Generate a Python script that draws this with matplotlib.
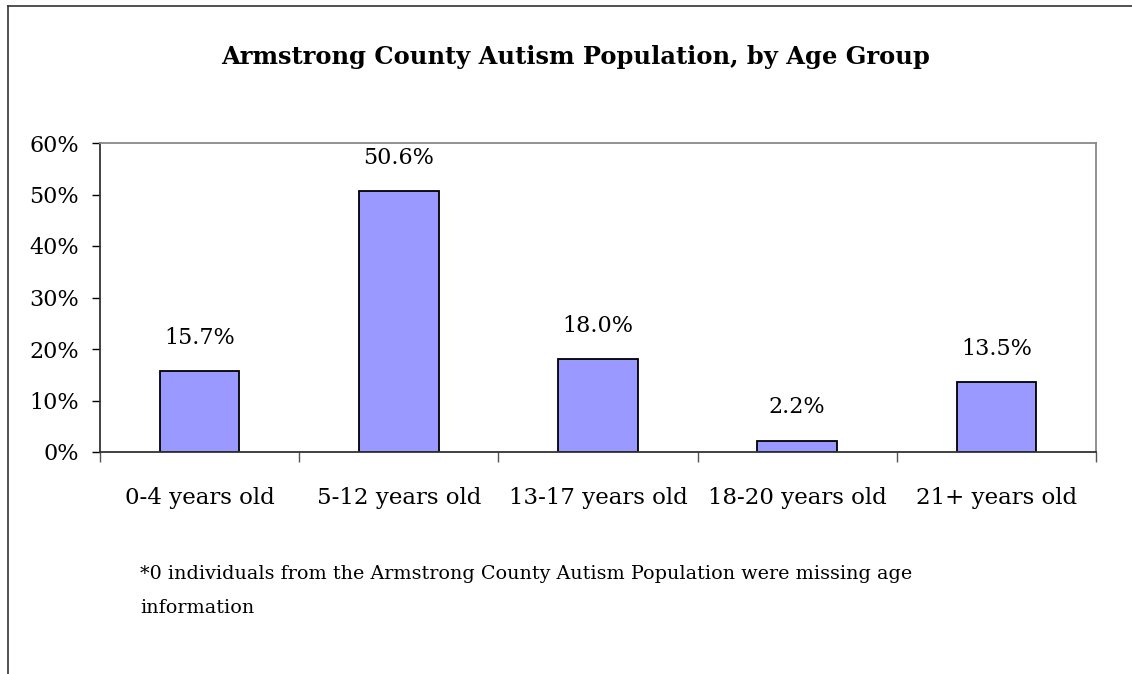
import matplotlib
matplotlib.use("Agg")
import matplotlib.pyplot as plt
from matplotlib.lines import Line2D

# Data
categories = ["0-4 years old", "5-12 years old", "13-17 years old", "18-20 years old", "21+ years old"]
values = [15.7, 50.6, 18.0, 2.2, 13.5]
yticks = [0, 10, 20, 30, 40, 50, 60]
title = "Armstrong County Autism Population, by Age Group"
footnote = ("*0 individuals from the Armstrong County Autism Population were missing age\n"
            "information")

plt.rcParams['font.family'] = ['DejaVu Serif', 'Liberation Serif']

W, H = 1132, 674
fig = plt.figure(figsize=(W / 100, H / 100), dpi=100, facecolor='white')

# Outer frame (left + top edges visible)
fig.add_artist(Line2D([8 / W, 8 / W], [0, 1 - 6 / H], color='#333333', lw=1.2, transform=fig.transFigure))
fig.add_artist(Line2D([8 / W, 1], [1 - 6 / H, 1 - 6 / H], color='#333333', lw=1.2, transform=fig.transFigure))

ax = fig.add_axes([100 / W, 1 - 452 / H, 996 / W, 309 / H])
x = list(range(len(categories)))
ax.bar(x, values, width=0.4, color='#9999FF', edgecolor='black', linewidth=1.3, zorder=2)

for xi, v in zip(x, values):
    ax.annotate(f"{v:.1f}%", (xi, v), xytext=(0, 16), textcoords='offset points',
                ha='center', va='bottom', fontsize=16)

ax.set_xlim(-0.5, len(categories) - 0.5)
ax.set_ylim(0, 60)
ax.set_yticks(yticks)
ax.set_yticklabels([f"{t}%" for t in yticks], fontsize=16)
ax.tick_params(axis='y', direction='out', length=6, width=1, pad=9)

ax.set_xticks([i - 0.5 for i in range(len(categories) + 1)])
ax.set_xticklabels([])
ax.set_xticks(x, minor=True)
ax.set_xticklabels(categories, minor=True, fontsize=16.5)
ax.tick_params(axis='x', which='major', direction='out', length=7, width=1, color='#555555')
ax.tick_params(axis='x', which='minor', length=0, pad=25)

for side in ['top', 'right']:
    ax.spines[side].set_color('#888888')
    ax.spines[side].set_linewidth(1.3)
for side in ['left', 'bottom']:
    ax.spines[side].set_color('#333333')
    ax.spines[side].set_linewidth(1.3)

fig.text(576 / W, 1 - 57 / H, title, ha='center', va='center', fontsize=17.4, fontweight='bold')
fig.text(140 / W, 1 - 565 / H, footnote, ha='left', va='top', fontsize=13.8, linespacing=2.15)

fig.savefig("out.png", dpi=100, facecolor='white')
